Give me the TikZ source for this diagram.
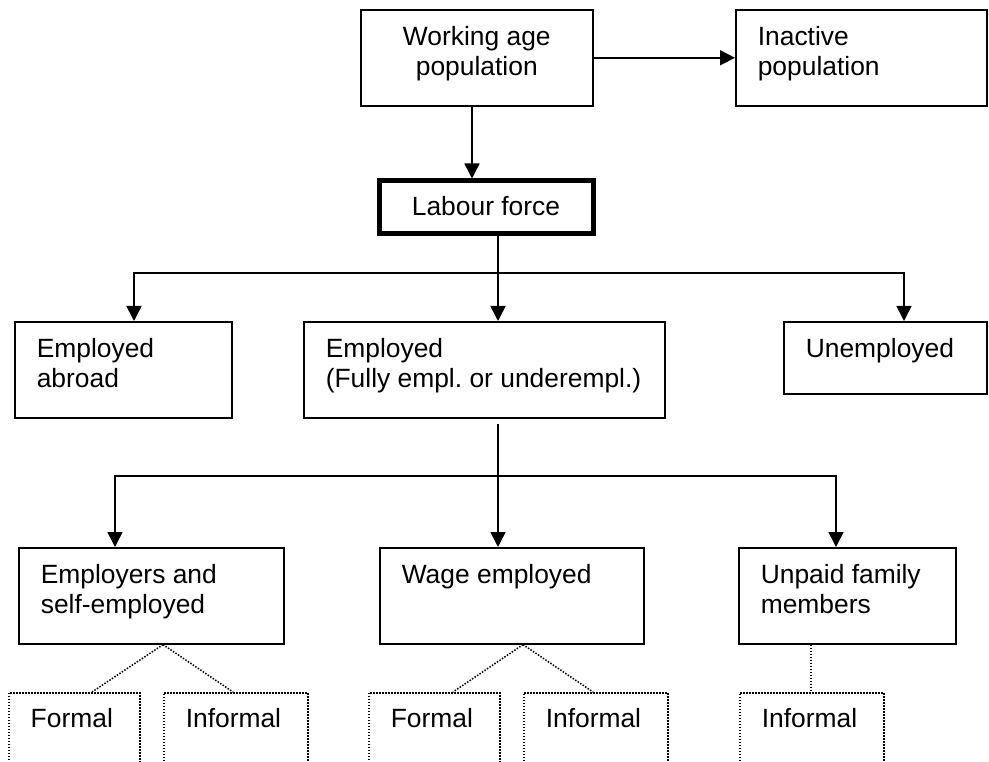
\documentclass[tikz,border=0pt]{standalone}
\usepackage{fontspec}
\setmainfont{Liberation Sans}
\usetikzlibrary{arrows.meta,calc}
\frenchspacing
\newcommand\lefttxt[4]{\parbox[t][#2][t]{#1}{\vspace*{#3}\raggedright\leftskip=22pt\strut #4}}
\newcommand\midtxt[4]{\parbox[t][#2][t]{#1}{\vspace*{#3}\centering\strut #4}}
\tikzset{
  x=1pt, y=-1pt,
  every node/.style={font=\fontsize{26.4pt}{30pt}\selectfont},
  boxs/.style={draw, line width=1.6pt, inner sep=0pt, anchor=north west},
  thickbox/.style={draw, line width=5pt, inner sep=0pt, anchor=north west},
  dotbox/.style={draw, line width=1.5pt, dash pattern=on 1.5pt off 1.5pt, inner sep=0pt, anchor=north west},
  arr/.style={line width=1.6pt, -{Triangle[length=15pt,width=15pt]}},
  dotconn/.style={line width=1.5pt, dash pattern=on 1.5pt off 1.5pt}
}
\begin{document}
\begin{tikzpicture}
\useasboundingbox (0,0) rectangle (989,762);
\fill[white] (0,0) rectangle (989,762);
\clip (0,0) rectangle (989,762);

% top row
\node[boxs] (wa) at (360,9) {\midtxt{232pt}{96pt}{15pt}{Working age\\population}};
\node[boxs] (inact) at (735,9) {\lefttxt{251pt}{96pt}{15pt}{Inactive\\population}};
\node[thickbox] (lf) at (376.5,178.5) {\midtxt{214pt}{53pt}{13.5pt}{Labour force}};

% middle row
\node[boxs] (abroad) at (14,321) {\lefttxt{217pt}{96pt}{15pt}{Employed\\abroad}};
\node[boxs] (emp) at (303,321) {\lefttxt{361pt}{96pt}{15pt}{Employed\\(Fully empl. or underempl.)}};
\node[boxs] (unemp) at (783,321) {\lefttxt{203pt}{72pt}{15pt}{Unemployed}};

% lower row
\node[boxs] (empr) at (18,547) {\lefttxt{265pt}{96pt}{15pt}{Employers and\\self-employed}};
\node[boxs] (wage) at (379,547) {\lefttxt{264pt}{96pt}{15pt}{Wage employed}};
\node[boxs] (unpaid) at (738,547) {\lefttxt{217pt}{96pt}{15pt}{Unpaid family\\members}};

% dotted boxes
\node[dotbox] (f1) at (8,692) {\lefttxt{131pt}{110pt}{14pt}{Formal}};
\node[dotbox] (i1) at (163,692) {\lefttxt{144pt}{110pt}{14pt}{Informal}};
\node[dotbox] (f2) at (368,692) {\lefttxt{131pt}{110pt}{14pt}{Formal}};
\node[dotbox] (i2) at (523,692) {\lefttxt{144pt}{110pt}{14pt}{Informal}};
\node[dotbox] (i3) at (739,692) {\lefttxt{144pt}{110pt}{14pt}{Informal}};

% helper x positions
\coordinate (x472) at (472,0);
\coordinate (x498) at (498,0);
\coordinate (x134) at (134,0);
\coordinate (x904) at (904,0);
\coordinate (x115) at (115,0);
\coordinate (x836) at (836,0);
\coordinate (x163) at (163,0);
\coordinate (x523) at (523,0);
\coordinate (x811) at (811,0);
\coordinate (x92) at (92,0);
\coordinate (x233) at (233,0);
\coordinate (x453) at (453,0);
\coordinate (x593) at (593,0);
\coordinate (j1) at (498,273);
\coordinate (j2) at (498,476);

% connectors
\draw[arr] (wa.east) -- (inact.west);
\draw[arr] (wa.south -| x472) -- (lf.north -| x472);
\draw[arr] (lf.south -| x498) -- (emp.north -| x498);
\draw[arr] (j1) -| (x134 |- abroad.north);
\draw[arr] (j1) -| (x904 |- unemp.north);
\draw[arr] ([yshift=-5pt]emp.south -| x498) -- (wage.north -| x498);
\draw[arr] (j2) -| (x115 |- empr.north);
\draw[arr] (j2) -| (x836 |- unpaid.north);

% dotted connectors
\coordinate (a1) at (empr.south -| x163);
\coordinate (a2) at (wage.south -| x523);
\draw[dotconn] (a1) -- (f1.north -| x92);
\draw[dotconn] (a1) -- (i1.north -| x233);
\draw[dotconn] (a2) -- (f2.north -| x453);
\draw[dotconn] (a2) -- (i2.north -| x593);
\draw[dotconn] (unpaid.south -| x811) -- (i3.north -| x811);
\end{tikzpicture}
\end{document}
